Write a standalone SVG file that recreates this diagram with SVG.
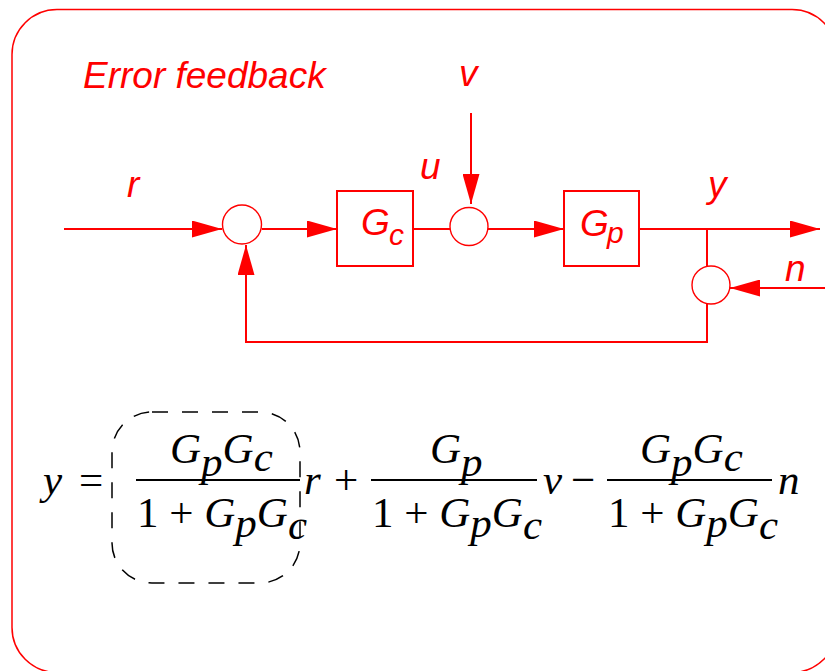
<svg xmlns="http://www.w3.org/2000/svg" width="825" height="671" viewBox="0 0 825 671">
<style>
.ln{fill:none;stroke:#FF0000;stroke-width:2}
.box{fill:#FFFFFF;stroke:#FF0000;stroke-width:2}
.sum{fill:#FFFFFF;stroke:#FF0000;stroke-width:1.4}
.lbl{font-family:"Liberation Sans",Arial,sans-serif;font-style:italic;fill:#FF0000}
.eq{font-family:"Liberation Serif","Times New Roman",serif;font-size:43px;fill:#000000}
.it{font-style:italic}
.bar{stroke:#000000;stroke-width:2}
</style>
<defs>
<marker id="ah" markerUnits="userSpaceOnUse" markerWidth="30" markerHeight="17" refX="30" refY="8.5" orient="auto">
<path d="M0,0 L30,8.5 L0,17 z" fill="#FF0000"/>
</marker>
</defs>
<rect id="frame" x="12" y="9.5" width="825" height="663" rx="45" ry="45" fill="none" stroke="#FF0000" stroke-width="1.5"/>
<text id="title" class="lbl" x="83" y="88" font-size="37">Error feedback</text>
<g id="connectors">
<path class="ln" d="M64,229 H222" marker-end="url(#ah)"/>
<path class="ln" d="M262,229 H337" marker-end="url(#ah)"/>
<path class="ln" d="M413,229 H450"/>
<path class="ln" d="M471,113 V204" marker-end="url(#ah)"/>
<path class="ln" d="M488,229 H564" marker-end="url(#ah)"/>
<path class="ln" d="M639,229 H820" marker-end="url(#ah)"/>
<path class="ln" d="M707,229 V266"/>
<path class="ln" d="M825,288 H730" marker-end="url(#ah)"/>
<path class="ln" d="M707,304 V342 H246 V245" marker-end="url(#ah)"/>
</g>
<g id="sum1"><circle class="sum" cx="242" cy="224.5" r="19.5"/></g>
<g id="Gc">
<rect class="box" x="337" y="191" width="76" height="75"/>
<text class="lbl" x="361" y="235" font-size="37">G<tspan x="389" y="245" font-size="30">c</tspan></text>
</g>
<g id="sum2"><circle class="sum" cx="469" cy="226.5" r="19"/></g>
<g id="Gp">
<rect class="box" x="564" y="191" width="75" height="75"/>
<text class="lbl" x="580" y="236" font-size="37">G<tspan x="607" y="243" font-size="30">p</tspan></text>
</g>
<g id="sum3"><circle class="sum" cx="711" cy="285" r="19"/></g>
<g id="labels">
<text class="lbl" x="127" y="197" font-size="37">r</text>
<text class="lbl" x="420" y="179" font-size="37">u</text>
<text class="lbl" x="459" y="86" font-size="37">v</text>
<text class="lbl" x="708" y="197" font-size="37">y</text>
<text class="lbl" x="785" y="281" font-size="37">n</text>
</g>
<g id="equation">
<text class="eq it" x="43" y="494">y</text>
<text class="eq" x="79" y="494" font-size="50">=</text>
<text class="eq it" x="170" y="463">G<tspan y="476">p</tspan><tspan y="463">G</tspan><tspan y="471">c</tspan></text>
<line class="bar" x1="136" y1="480" x2="300" y2="480"/>
<text class="eq" x="137" y="527">1 + <tspan class="it">G</tspan><tspan class="it" y="537">p</tspan><tspan class="it" y="527">G</tspan><tspan class="it" y="539">c</tspan></text>
<text class="eq it" x="304" y="494">r</text>
<text class="eq" x="334" y="494">+</text>
<text class="eq it" x="430" y="463">G<tspan y="476">p</tspan></text>
<line class="bar" x1="371" y1="480" x2="537" y2="480"/>
<text class="eq" x="372" y="527">1 + <tspan class="it">G</tspan><tspan class="it" y="537">p</tspan><tspan class="it" y="527">G</tspan><tspan class="it" y="539">c</tspan></text>
<text class="eq it" x="543" y="494">v</text>
<text class="eq" x="571" y="494">−</text>
<text class="eq it" x="640" y="463">G<tspan y="476">p</tspan><tspan y="463">G</tspan><tspan y="471">c</tspan></text>
<line class="bar" x1="607" y1="480" x2="772" y2="480"/>
<text class="eq" x="608" y="527">1 + <tspan class="it">G</tspan><tspan class="it" y="537">p</tspan><tspan class="it" y="527">G</tspan><tspan class="it" y="539">c</tspan></text>
<text class="eq it" x="778" y="494">n</text>
<rect x="112" y="412" width="188" height="171" rx="40" ry="40" fill="none" stroke="#000000" stroke-width="1.5" stroke-dasharray="16 14"/>
</g>
</svg>
